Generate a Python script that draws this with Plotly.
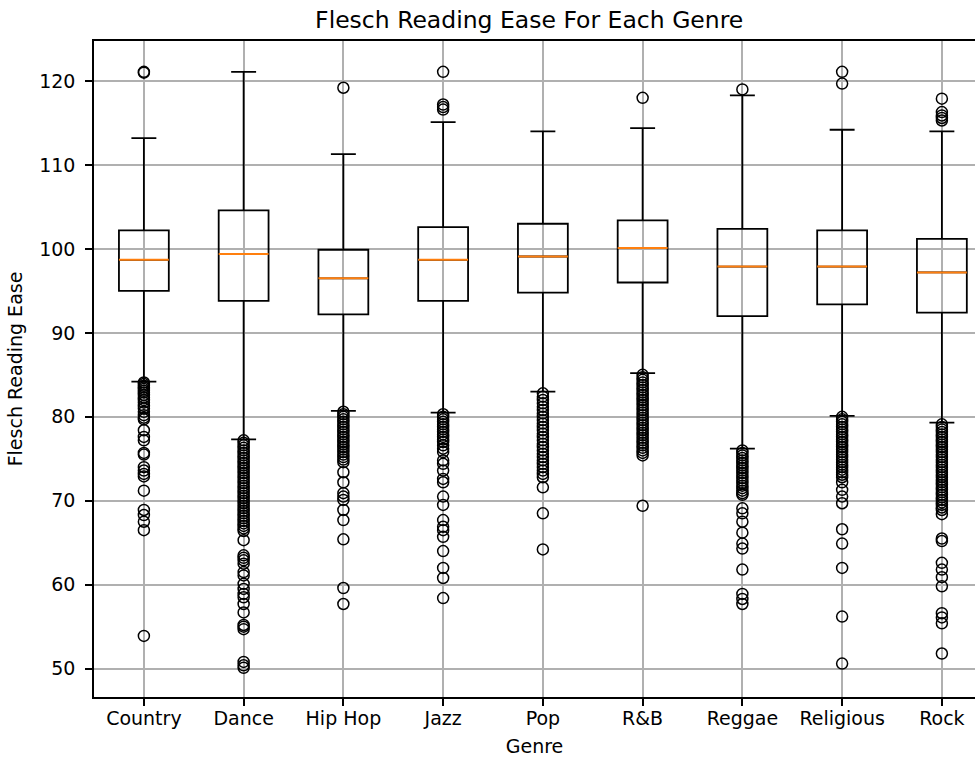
import plotly.graph_objects as go

genres = ["Country", "Dance", "Hip Hop", "Jazz", "Pop", "R&B", "Reggae", "Religious", "Rock"]
positions = [1, 2, 3, 4, 5, 6, 7, 8, 9]

q1 = [95.0, 93.8, 92.2, 93.8, 94.8, 96.0, 92.0, 93.4, 92.4]
median = [98.7, 99.4, 96.5, 98.7, 99.1, 100.1, 97.9, 97.9, 97.2]
q3 = [102.2, 104.6, 99.9, 102.6, 103.0, 103.4, 102.4, 102.2, 101.2]
lower_whisker = [84.2, 77.3, 80.7, 80.5, 83.0, 85.2, 76.2, 80.1, 79.3]
upper_whisker = [113.2, 121.1, 111.3, 115.1, 114.0, 114.4, 118.3, 114.2, 114.0]

out_country = [121.1, 121.0, 84.1, 83.9, 83.7, 83.5, 83.3, 83.1, 82.9, 82.6, 82.3, 82.0,
               81.7, 81.3, 81.0, 80.6, 80.2, 79.9, 79.7, 78.4, 77.6, 77.2, 75.7, 75.5,
               74.0, 73.6, 73.2, 72.9, 71.2, 68.9, 68.3, 67.5, 66.5, 53.9]
out_dance = [77.2, 76.9, 76.6, 76.3, 76.0, 75.7, 75.4, 75.1, 74.8, 74.5, 74.2, 73.9,
             73.6, 73.3, 73.0, 72.7, 72.4, 72.1, 71.8, 71.5, 71.2, 70.9, 70.6, 70.3,
             70.0, 69.7, 69.4, 69.1, 68.8, 68.5, 68.2, 67.9, 67.6, 67.3, 67.0, 66.7,
             66.4, 65.3, 63.5, 63.2, 62.9, 62.5, 61.5, 61.1, 60.1, 59.5, 58.9, 58.5,
             57.7, 56.7, 55.2, 55.0, 54.7, 50.8, 50.4, 50.1]
out_hiphop = [119.2, 80.6, 80.3, 80.0, 79.7, 79.4, 79.1, 78.8, 78.5, 78.2, 77.9, 77.6,
              77.3, 77.0, 76.7, 76.4, 76.1, 75.8, 75.5, 75.2, 74.9, 74.6, 73.4, 72.2,
              70.9, 70.5, 70.1, 68.9, 67.7, 65.4, 59.6, 57.7]
out_jazz = [121.1, 117.2, 116.9, 116.6, 80.3, 80.0, 79.7, 79.4, 79.1, 78.8, 78.5, 78.2,
            77.9, 77.6, 77.3, 77.0, 76.6, 76.2, 75.8, 74.8, 74.4, 73.6, 72.6, 72.2,
            70.5, 69.5, 67.7, 66.9, 66.5, 65.7, 64.0, 62.0, 60.8, 58.4]
out_pop = [82.8, 82.4, 82.0, 81.6, 81.2, 80.8, 80.4, 80.0, 79.6, 79.2, 78.8, 78.4,
           78.0, 77.6, 77.2, 76.8, 76.4, 76.0, 75.6, 75.2, 74.8, 74.4, 74.0, 73.6,
           73.2, 72.8, 71.6, 68.5, 64.2]
out_rnb = [118.0, 85.0, 84.7, 84.4, 84.1, 83.8, 83.5, 83.2, 82.9, 82.6, 82.3, 82.0,
           81.7, 81.4, 81.1, 80.8, 80.5, 80.2, 79.9, 79.6, 79.3, 79.0, 78.7, 78.4,
           78.1, 77.8, 77.5, 77.2, 76.9, 76.6, 76.3, 76.0, 75.7, 75.4, 69.4]
out_reggae = [119.0, 76.0, 75.7, 75.4, 75.1, 74.8, 74.5, 74.2, 73.9, 73.6, 73.3, 73.0,
              72.7, 72.4, 72.1, 71.8, 71.5, 71.2, 70.9, 70.7, 69.1, 68.5, 67.5, 66.2,
              64.9, 64.3, 61.8, 58.9, 58.3, 57.7]
out_religious = [121.1, 119.7, 80.0, 79.7, 79.4, 79.1, 78.8, 78.5, 78.2, 77.9, 77.6,
                 77.3, 77.0, 76.7, 76.4, 76.1, 75.8, 75.5, 75.2, 74.9, 74.6, 74.3, 74.0,
                 73.7, 73.4, 73.1, 72.8, 72.2, 71.3, 70.5, 69.7, 66.6, 64.9, 62.0, 56.2,
                 50.6]
out_rock = [117.9, 116.3, 115.9, 115.6, 115.3, 79.1, 78.8, 78.5, 78.2, 77.9, 77.6, 77.3,
            77.0, 76.7, 76.4, 76.1, 75.8, 75.5, 75.2, 74.9, 74.6, 74.3, 74.0, 73.7,
            73.4, 73.1, 72.8, 72.5, 72.2, 71.9, 71.6, 71.3, 71.0, 70.7, 70.4, 70.1,
            69.8, 69.5, 69.2, 68.9, 68.4, 65.5, 65.2, 62.6, 61.8, 60.9, 59.8, 56.6,
            56.1, 55.4, 51.8]
outliers = [out_country, out_dance, out_hiphop, out_jazz, out_pop, out_rnb,
            out_reggae, out_religious, out_rock]

FONT = "DejaVu Sans"
BOX_W = 0.5

fig = go.Figure()
fig.add_trace(go.Box(
    x=positions, q1=q1, median=median, q3=q3,
    lowerfence=lower_whisker, upperfence=upper_whisker,
    width=BOX_W, whiskerwidth=0.5, boxpoints=False,
    fillcolor="rgba(0,0,0,0)", line=dict(color="black", width=1.8),
    showlegend=False, hoverinfo="skip",
))

# orange median lines
mx, my = [], []
for p, m in zip(positions, median):
    mx += [p - BOX_W / 2, p + BOX_W / 2, None]
    my += [m, m, None]
fig.add_trace(go.Scatter(x=mx, y=my, mode="lines",
                         line=dict(color="#ff7f0e", width=2),
                         showlegend=False, hoverinfo="skip"))

# outliers
ox, oy = [], []
for p, vals in zip(positions, outliers):
    ox += [p] * len(vals)
    oy += vals
fig.add_trace(go.Scatter(x=ox, y=oy, mode="markers",
                         marker=dict(symbol="circle-open", size=11, color="black",
                                     line=dict(width=1.5)),
                         showlegend=False, hoverinfo="skip"))

fig.update_layout(
    width=975, height=757,
    margin=dict(l=94, r=0, t=41, b=60, autoexpand=False),
    paper_bgcolor="white", plot_bgcolor="white",
    font=dict(family=FONT, size=19, color="#000"),
    title=dict(text="Flesch Reading Ease For Each Genre", x=0.494, xref="paper",
               xanchor="center", y=1 - 20 / 757, yref="container", yanchor="middle",
               font=dict(size=23.5, family=FONT, color="#000")),
    xaxis=dict(range=[0.5, 9.332], tickvals=positions, ticktext=genres,
               showgrid=True, gridcolor="#b0b0b0", gridwidth=1.5,
               showline=True, linecolor="black", linewidth=1.5, mirror=True,
               ticks="outside", ticklen=7, tickwidth=1.5, tickcolor="black",
               ticklabelstandoff=-4,
               zeroline=False,
               title=dict(text="Genre", standoff=12, font=dict(size=19))),
    yaxis=dict(range=[46.62, 124.77], tickvals=[50, 60, 70, 80, 90, 100, 110, 120],
               showgrid=True, gridcolor="#b0b0b0", gridwidth=1.5,
               showline=True, linecolor="black", linewidth=1.5, mirror=False,
               ticks="outside", ticklen=7, tickwidth=1.5, tickcolor="black",
               ticklabelstandoff=6,
               zeroline=False,
               title=dict(text="Flesch Reading Ease", standoff=12, font=dict(size=19))),
)

fig.write_html("out.html")
